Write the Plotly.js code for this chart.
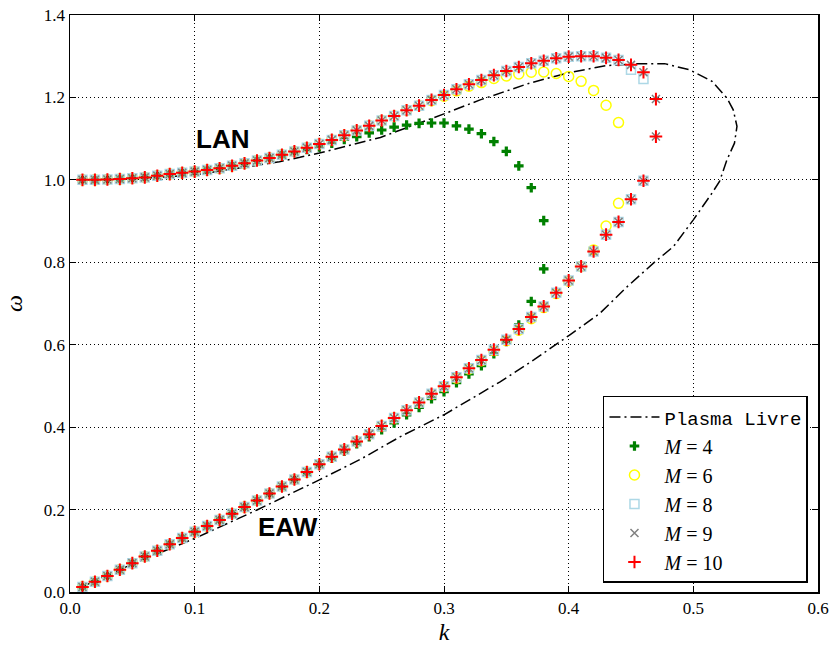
<!DOCTYPE html>
<html>
<head>
<meta charset="utf-8">
<script src="https://cdn.plot.ly/plotly-3.0.1.min.js"></script>
<style>
  html, body { margin: 0; padding: 0; background: #ffffff; }
  #chart { width: 832px; height: 650px; }
</style>
</head>
<body>
<div id="chart"></div>
<script>
// Wavenumber grid used by the truncated solutions
const kVals = [0.01, 0.02, 0.03, 0.04, 0.05, 0.06, 0.07, 0.08, 0.09, 0.10,
               0.11, 0.12, 0.13, 0.14, 0.15, 0.16, 0.17, 0.18, 0.19, 0.20,
               0.21, 0.22, 0.23, 0.24, 0.25, 0.26, 0.27, 0.28, 0.29, 0.30,
               0.31, 0.32, 0.33, 0.34, 0.35, 0.36, 0.37, 0.38, 0.39, 0.40,
               0.41, 0.42, 0.43, 0.44, 0.45, 0.46, 0.47];

// Free plasma dispersion curve (traced from the EAW branch round to the LAN branch)
const freeK = [0.01, 0.045, 0.10, 0.15, 0.20, 0.233, 0.265, 0.30, 0.345, 0.372,
               0.401, 0.425, 0.447, 0.468, 0.484, 0.50, 0.515, 0.521, 0.527, 0.533,
               0.535, 0.532, 0.527, 0.515, 0.497, 0.477, 0.457, 0.43, 0.40, 0.369,
               0.329, 0.30, 0.249, 0.20, 0.168, 0.10, 0.05, 0.01];
const freeW = [0.013, 0.061, 0.130, 0.199, 0.272, 0.322, 0.377, 0.430, 0.510, 0.563,
               0.624, 0.676, 0.741, 0.798, 0.838, 0.903, 0.968, 0.996, 1.049, 1.089,
               1.130, 1.170, 1.198, 1.239, 1.267, 1.282, 1.282, 1.277, 1.260, 1.235,
               1.194, 1.160, 1.103, 1.065, 1.044, 1.012, 1.002, 1.000];

// M = 10
const m10Upper = [1.000, 1.000, 1.001, 1.002, 1.004, 1.006, 1.010, 1.014, 1.017, 1.020,
                  1.024, 1.028, 1.034, 1.040, 1.047, 1.053, 1.061, 1.069, 1.078, 1.087,
                  1.097, 1.108, 1.120, 1.131, 1.144, 1.155, 1.169, 1.180, 1.194, 1.206,
                  1.220, 1.232, 1.242, 1.254, 1.264, 1.274, 1.283, 1.289, 1.295, 1.299,
                  1.300, 1.300, 1.296, 1.291, 1.279, 1.261, 1.196];
const m10Lower = [0.012, 0.025, 0.039, 0.054, 0.070, 0.086, 0.100, 0.116, 0.131, 0.146,
                  0.160, 0.175, 0.190, 0.206, 0.222, 0.239, 0.256, 0.273, 0.291, 0.310,
                  0.328, 0.346, 0.365, 0.383, 0.403, 0.422, 0.441, 0.460, 0.481, 0.499,
                  0.521, 0.543, 0.563, 0.588, 0.612, 0.638, 0.667, 0.693, 0.726, 0.756,
                  0.790, 0.826, 0.867, 0.898, 0.953, 0.998, 1.105];

// M = 9
const m9Upper = [1.000, 1.000, 1.001, 1.002, 1.004, 1.006, 1.010, 1.014, 1.017, 1.020,
                 1.024, 1.028, 1.034, 1.040, 1.047, 1.053, 1.061, 1.069, 1.078, 1.087,
                 1.097, 1.108, 1.120, 1.131, 1.144, 1.155, 1.169, 1.180, 1.194, 1.206,
                 1.220, 1.232, 1.242, 1.254, 1.264, 1.274, 1.283, 1.289, 1.295, 1.299,
                 1.300, 1.300, 1.296, 1.291, 1.279, 1.261, 1.196];
const m9Lower = [0.012, 0.025, 0.039, 0.054, 0.070, 0.086, 0.100, 0.116, 0.131, 0.146,
                 0.160, 0.175, 0.190, 0.206, 0.222, 0.239, 0.256, 0.273, 0.291, 0.310,
                 0.328, 0.346, 0.365, 0.383, 0.403, 0.422, 0.441, 0.460, 0.481, 0.499,
                 0.521, 0.543, 0.563, 0.588, 0.612, 0.638, 0.667, 0.693, 0.726, 0.756,
                 0.790, 0.826, 0.867, 0.898, 0.953, 0.998, 1.105];

// M = 8
const m8Upper = [1.000, 1.000, 1.001, 1.002, 1.004, 1.006, 1.010, 1.014, 1.017, 1.020,
                 1.024, 1.028, 1.034, 1.040, 1.047, 1.053, 1.061, 1.069, 1.078, 1.087,
                 1.097, 1.108, 1.120, 1.131, 1.144, 1.155, 1.169, 1.180, 1.194, 1.206,
                 1.220, 1.232, 1.242, 1.254, 1.264, 1.274, 1.283, 1.289, 1.295, 1.299,
                 1.300, 1.300, 1.296, 1.291, 1.267, 1.245];
const m8Lower = [0.012, 0.025, 0.039, 0.054, 0.070, 0.086, 0.100, 0.116, 0.131, 0.146,
                 0.160, 0.175, 0.190, 0.206, 0.222, 0.239, 0.256, 0.273, 0.291, 0.310,
                 0.328, 0.346, 0.365, 0.383, 0.403, 0.422, 0.441, 0.460, 0.481, 0.499,
                 0.521, 0.543, 0.563, 0.588, 0.612, 0.638, 0.667, 0.693, 0.726, 0.756,
                 0.790, 0.826, 0.867, 0.898, 0.953, 0.998];

// M = 6
const m6Upper = [1.000, 1.000, 1.001, 1.002, 1.004, 1.006, 1.010, 1.014, 1.017, 1.020,
                 1.024, 1.028, 1.034, 1.040, 1.047, 1.053, 1.061, 1.069, 1.078, 1.087,
                 1.097, 1.108, 1.120, 1.131, 1.144, 1.155, 1.169, 1.180, 1.192, 1.203,
                 1.216, 1.227, 1.236, 1.246, 1.252, 1.257, 1.261, 1.262, 1.258, 1.251,
                 1.239, 1.217, 1.181, 1.139];
const m6Lower = [0.012, 0.025, 0.039, 0.054, 0.070, 0.086, 0.100, 0.116, 0.131, 0.146,
                 0.160, 0.175, 0.190, 0.206, 0.222, 0.239, 0.256, 0.273, 0.291, 0.310,
                 0.328, 0.346, 0.365, 0.383, 0.403, 0.422, 0.441, 0.460, 0.480, 0.498,
                 0.519, 0.541, 0.561, 0.586, 0.610, 0.635, 0.663, 0.690, 0.724, 0.754,
                 0.790, 0.830, 0.888, 0.943];

// M = 4
const m4Upper = [1.000, 1.000, 1.001, 1.002, 1.004, 1.006, 1.010, 1.014, 1.017, 1.020,
                 1.024, 1.028, 1.034, 1.040, 1.047, 1.053, 1.060, 1.067, 1.074, 1.080,
                 1.089, 1.098, 1.105, 1.114, 1.121, 1.128, 1.133, 1.137, 1.138, 1.138,
                 1.131, 1.123, 1.112, 1.093, 1.069, 1.034, 0.981, 0.901];
const m4Lower = [0.012, 0.025, 0.039, 0.054, 0.070, 0.086, 0.100, 0.116, 0.131, 0.146,
                 0.160, 0.175, 0.190, 0.206, 0.222, 0.238, 0.255, 0.272, 0.290, 0.308,
                 0.325, 0.342, 0.360, 0.377, 0.394, 0.410, 0.430, 0.448, 0.469, 0.486,
                 0.508, 0.529, 0.549, 0.578, 0.608, 0.648, 0.705, 0.784];

const xTicks = [0.0, 0.1, 0.2, 0.3, 0.4, 0.5, 0.6];
const yTicks = [0.0, 0.2, 0.4, 0.6, 0.8, 1.0, 1.2, 1.4];

// Both branches of one truncation order go into a single marker trace
function branches(upper, lower) {
  return {
    x: kVals.slice(0, upper.length).concat(kVals.slice(0, lower.length)),
    y: upper.concat(lower)
  };
}

const serif = 'Liberation Serif, DejaVu Serif, serif';

const traces = [
  {
    x: freeK, y: freeW, mode: 'lines', type: 'scatter',
    name: '<span style="font-family:Liberation Mono, DejaVu Sans Mono, monospace; font-size:19px">Plasma Livre</span>',
    line: { color: 'black', width: 1.5, dash: '11px,4px,2px,4px' }
  },
  Object.assign(branches(m4Upper, m4Lower), {
    mode: 'markers', type: 'scatter', name: '<i>M</i> = 4',
    marker: { symbol: 'cross', size: 8, color: '#008000', line: { width: 0 } }
  }),
  Object.assign(branches(m6Upper, m6Lower), {
    mode: 'markers', type: 'scatter', name: '<i>M</i> = 6',
    marker: { symbol: 'circle-open', size: 10, color: '#ffff00', line: { width: 1.5 } }
  }),
  Object.assign(branches(m8Upper, m8Lower), {
    mode: 'markers', type: 'scatter', name: '<i>M</i> = 8',
    marker: { symbol: 'square-open', size: 9, color: '#add8e6', line: { width: 1.5 } }
  }),
  Object.assign(branches(m9Upper, m9Lower), {
    mode: 'markers', type: 'scatter', name: '<i>M</i> = 9',
    marker: { symbol: 'x-thin', size: 8, color: '#808080', line: { width: 1.5, color: '#808080' } }
  }),
  Object.assign(branches(m10Upper, m10Lower), {
    mode: 'markers', type: 'scatter', name: '<i>M</i> = 10',
    marker: { symbol: 'cross-thin', size: 9, color: '#ff0000', line: { width: 2, color: '#ff0000' } }
  })
];

const axisCommon = {
  showline: true, linecolor: 'black', linewidth: 1.5, mirror: 'ticks',
  ticks: 'inside', ticklen: 6, tickwidth: 1, tickcolor: 'black',
  showgrid: true, gridcolor: 'black', gridwidth: 1, griddash: '1px,3px',
  zeroline: false, tickformat: '.1f',
  tickfont: { family: serif, size: 17, color: 'black' }
};

const layout = {
  width: 832, height: 650,
  margin: { l: 70, r: 14, t: 15, b: 58 },
  paper_bgcolor: 'white', plot_bgcolor: 'white',
  showlegend: true,
  xaxis: Object.assign({}, axisCommon, {
    range: [0, 0.6], tickvals: xTicks,
    title: { text: '<i>k</i>', font: { family: serif, size: 24, color: 'black' }, standoff: 6 }
  }),
  yaxis: Object.assign({}, axisCommon, {
    range: [0, 1.4], tickvals: yTicks,
    title: { text: '<i>ω</i>', font: { family: serif, size: 24, color: 'black' }, standoff: 14 }
  }),
  legend: {
    x: 0.9866, xanchor: 'right', y: 0.0156, yanchor: 'bottom',
    bgcolor: 'white', bordercolor: 'black', borderwidth: 1.5,
    font: { family: serif, size: 20, color: 'black' },
    itemwidth: 50, tracegroupgap: 0
  },
  annotations: [
    { x: 0.122, y: 1.10, xref: 'x', yref: 'y', text: 'LAN', showarrow: false,
      font: { family: 'Liberation Sans, Arial, sans-serif', size: 26, weight: 'bold', color: 'black' } },
    { x: 0.175, y: 0.158, xref: 'x', yref: 'y', text: 'EAW', showarrow: false,
      font: { family: 'Liberation Sans, Arial, sans-serif', size: 26, weight: 'bold', color: 'black' } }
  ]
};

Plotly.newPlot('chart', traces, layout, { displayModeBar: false, staticPlot: true });
</script>
</body>
</html>
